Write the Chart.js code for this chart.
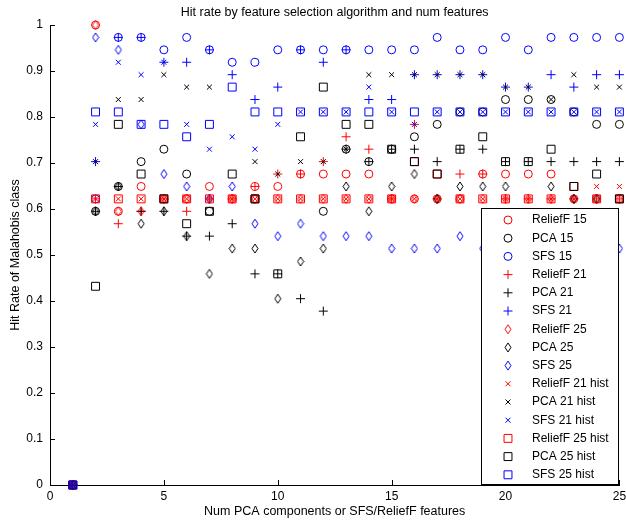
<!DOCTYPE html>
<html>
<head>
<meta charset="utf-8">
<script src="https://cdn.jsdelivr.net/npm/chart.js@4.4.0/dist/chart.umd.min.js"></script>
<style>
  html, body { margin: 0; padding: 0; background: #fff; }
</style>
</head>
<body>
<canvas id="hitRate" width="626" height="524"></canvas>
<script>
// x = number of PCA components / selected features
const numFeatures = [1, 2, 3, 4, 5, 6, 7, 8, 9, 10, 11, 12, 13, 14, 15, 16, 17, 18, 19, 20, 21, 22, 23, 24, 25];

// hit rates (null = not visible)
const relief15 = [0, 1.0, 0.595, 0.649, 0.622, 0.622, 0.649, 0.622, 0.649, 0.649, 0.676, 0.676, 0.676, 0.676, 0.622, 0.622, 0.622, 0.622, 0.676, 0.676, 0.676, 0.676, 0.622, 0.622, 0.622];
const pca15 = [0, 0.595, 0.649, 0.703, 0.730, 0.676, 0.595, null, 0.622, null, null, 0.595, 0.730, 0.703, 0.730, 0.757, 0.784, 0.811, 0.811, 0.838, 0.838, 0.838, 0.811, 0.784, 0.784];
const sfs15 = [0, 0.622, 0.973, 0.973, 0.946, 0.973, 0.946, 0.919, 0.919, 0.946, 0.946, 0.946, 0.946, 0.946, 0.946, 0.946, 0.973, 0.946, 0.946, 0.973, 0.946, 0.973, 0.973, 0.973, 0.973];
const relief21 = [0, 0.622, 0.568, 0.595, 0.622, 0.595, 0.622, 0.622, 0.649, 0.676, 0.676, 0.703, 0.757, 0.730, 0.622, 0.784, 0.622, 0.676, 0.676, 0.622, 0.622, 0.622, 0.622, 0.622, 0.622];
const pca21 = [0, 0.595, 0.649, 0.595, 0.595, 0.541, 0.541, 0.568, 0.459, 0.459, 0.405, 0.378, 0.730, 0.703, 0.730, 0.730, 0.703, 0.730, 0.730, 0.703, 0.703, 0.703, 0.703, 0.703, 0.703];
const sfs21 = [0, 0.703, 0.973, 0.973, 0.919, 0.919, 0.946, 0.892, 0.838, 0.865, 0.946, 0.919, 0.946, 0.838, 0.838, 0.892, 0.892, 0.892, 0.892, 0.865, 0.865, 0.892, 0.865, 0.892, 0.892];
const relief25 = [0, 1.0, 0.595, 0.595, 0.622, 0.622, 0.622, 0.622, 0.622, 0.622, 0.622, 0.622, 0.622, 0.622, 0.622, 0.622, 0.622, 0.622, 0.622, 0.622, 0.622, 0.622, 0.622, 0.622, 0.622];
const pca25 = [0, 0.595, 0.649, 0.568, 0.595, 0.541, 0.459, 0.514, 0.514, 0.405, 0.486, 0.514, 0.649, 0.595, 0.649, 0.676, 0.622, 0.649, 0.649, 0.649, null, 0.649, 0.622, 0.622, null];
const sfs25 = [0, 0.973, 0.946, 0.784, 0.676, 0.649, 0.622, 0.649, 0.568, 0.541, 0.568, 0.541, 0.541, 0.541, 0.514, 0.514, 0.514, 0.541, 0.514, null, null, null, null, null, 0.514];
const relief21Hist = [0, 0.622, 0.622, 0.622, 0.622, 0.622, 0.622, 0.622, 0.622, 0.622, 0.622, 0.622, 0.622, 0.622, 0.622, 0.622, 0.622, 0.622, 0.622, 0.622, 0.622, 0.622, 0.622, 0.649, 0.649];
const pca21Hist = [0, 0.703, 0.838, 0.838, 0.892, 0.865, 0.865, null, 0.703, 0.676, 0.703, 0.703, 0.730, 0.892, 0.892, 0.892, 0.892, 0.892, 0.892, 0.865, 0.865, 0.838, 0.892, 0.865, 0.865];
const sfs21Hist = [0, 0.784, 0.919, 0.892, 0.919, 0.784, 0.730, 0.757, 0.730, 0.784, 0.811, 0.811, 0.811, 0.865, 0.811, 0.784, 0.811, 0.811, 0.811, 0.811, 0.811, 0.811, 0.811, 0.811, 0.811];
const relief25Hist = [0, 0.622, 0.622, 0.622, 0.622, 0.622, 0.622, 0.622, 0.622, 0.622, 0.622, 0.622, 0.622, 0.622, 0.622, 0.703, 0.676, 0.622, 0.622, 0.622, 0.622, 0.622, 0.649, 0.622, 0.622];
const pca25Hist = [0, 0.432, 0.784, 0.676, 0.622, 0.568, 0.595, 0.676, 0.622, 0.459, 0.757, 0.865, 0.784, 0.784, 0.730, 0.703, 0.676, 0.730, 0.757, 0.703, 0.703, 0.730, 0.649, 0.676, 0.622];
const sfs25Hist = [0, 0.811, 0.811, 0.784, 0.784, 0.757, 0.784, 0.865, 0.811, 0.811, 0.811, 0.811, 0.811, 0.811, 0.811, 0.811, 0.811, 0.811, 0.811, 0.811, 0.811, 0.811, 0.811, 0.811, 0.811];

const seriesNames = ["ReliefF 15", "PCA 15", "SFS 15", "ReliefF 21", "PCA 21", "SFS 21", "ReliefF 25", "PCA 25", "SFS 25",
  "ReliefF 21 hist", "PCA 21 hist", "SFS 21 hist", "ReliefF 25 hist", "PCA 25 hist", "SFS 25 hist"];
const seriesValues = [relief15, pca15, sfs15, relief21, pca21, sfs21, relief25, pca25, sfs25,
  relief21Hist, pca21Hist, sfs21Hist, relief25Hist, pca25Hist, sfs25Hist];

const RED = "#ff0000", BLACK = "#000000", BLUE = "#0000ff";
const colors = [RED, BLACK, BLUE];

// matlab style diamond is taller than wide, so draw it on a small canvas
function makeDiamond(color) {
  const c = document.createElement("canvas");
  c.width = 8;
  c.height = 11;
  const g = c.getContext("2d");
  g.strokeStyle = color;
  g.lineWidth = 1;
  g.beginPath();
  g.moveTo(4, 1);
  g.lineTo(7, 5.5);
  g.lineTo(4, 10);
  g.lineTo(1, 5.5);
  g.closePath();
  g.stroke();
  return c;
}

function markerFor(i) {
  const color = colors[i % 3];
  const group = Math.floor(i / 3);
  if (group === 0) return { pointStyle: "circle", radius: 4 };
  if (group === 1) return { pointStyle: "cross", radius: 4.5 };
  if (group === 2) return { pointStyle: makeDiamond(color), radius: 5 };
  if (group === 3) return { pointStyle: "crossRot", radius: 3.5 };
  return { pointStyle: "rect", radius: 5.6 };
}

const markers = seriesNames.map((_, i) => markerFor(i));

const datasets = seriesNames.map((name, i) => ({
  label: name,
  data: numFeatures
    .map((x, j) => ({ x: x, y: seriesValues[i][j] }))
    .filter((p) => p.y !== null),
  showLine: false,
  pointStyle: markers[i].pointStyle,
  pointRadius: markers[i].radius,
  pointHoverRadius: markers[i].radius,
  pointBorderWidth: 1,
  pointBorderColor: colors[i % 3],
  pointBackgroundColor: "rgba(0,0,0,0)",
  clip: false,
  order: -i,
}));

// matlab ticks point into the plot
const insideTicks = {
  id: "insideTicks",
  beforeDatasetsDraw(chart) {
    const ctx = chart.ctx;
    const xs = chart.scales.x, ys = chart.scales.y;
    ctx.save();
    ctx.strokeStyle = "#000";
    ctx.lineWidth = 1;
    ctx.beginPath();
    xs.ticks.forEach((t) => {
      const px = Math.round(xs.getPixelForValue(t.value)) + 0.5;
      ctx.moveTo(px, ys.bottom);
      ctx.lineTo(px, ys.bottom - 5);
    });
    ys.ticks.forEach((t) => {
      const py = Math.round(ys.getPixelForValue(t.value)) + 0.5;
      ctx.moveTo(xs.left, py);
      ctx.lineTo(xs.left + 5, py);
    });
    ctx.stroke();
    ctx.restore();
  },
};

// legend box sits inside the axes, on top of the markers
const boxLegend = {
  id: "boxLegend",
  afterDraw(chart) {
    const ctx = chart.ctx;
    const left = 481.5, top = 208.5, right = 618.5, bottom = 484.5;
    ctx.save();
    ctx.fillStyle = "#fff";
    ctx.fillRect(left, top, right - left, bottom - top);
    ctx.strokeStyle = "#000";
    ctx.lineWidth = 1;
    ctx.strokeRect(left, top, right - left, bottom - top);
    ctx.font = "12px 'Liberation Sans', Arial, sans-serif";
    ctx.textBaseline = "middle";
    ctx.textAlign = "left";
    seriesNames.forEach((name, i) => {
      const y = 220 + i * 18.2;
      ctx.strokeStyle = colors[i % 3];
      ctx.fillStyle = "rgba(0,0,0,0)";
      ctx.lineWidth = 1;
      Chart.helpers.drawPoint(ctx, {
        pointStyle: markers[i].pointStyle,
        radius: markers[i].radius,
        borderWidth: 1,
        rotation: 0,
      }, 508, y);
      ctx.fillStyle = "#000";
      ctx.fillText(name, 532, y);
    });
    ctx.restore();
  },
};

Chart.defaults.font.family = "'Liberation Sans', Arial, sans-serif";
Chart.defaults.font.size = 12;
Chart.defaults.color = "#000";

new Chart(document.getElementById("hitRate"), {
  type: "scatter",
  data: { datasets: datasets },
  options: {
    responsive: false,
    animation: false,
    events: [],
    layout: { padding: { top: 0, right: 6, bottom: 0, left: 0 } },
    plugins: {
      legend: { display: false },
      tooltip: { enabled: false },
      title: {
        display: true,
        fullSize: false,
        text: "Hit rate by feature selection algorithm and num features",
        font: { size: 12.5, weight: "normal" },
        color: "#000",
        padding: { top: 5.5, bottom: 4.5 },
      },
    },
    scales: {
      x: {
        type: "linear",
        min: 0,
        max: 25,
        ticks: { stepSize: 5, padding: 4, maxRotation: 0, color: "#000" },
        grid: { display: false, drawTicks: false },
        border: { display: true, color: "#000", width: 1 },
        title: {
          display: true,
          text: "Num PCA components or SFS/ReliefF features",
          font: { size: 12.5 },
          padding: { top: 0, bottom: 5 },
          color: "#000",
        },
        afterFit(scale) {
          scale.height = 39;
          scale.paddingLeft = 0;
          scale.paddingRight = 0;
        },
      },
      y: {
        min: 0,
        max: 1,
        ticks: {
          stepSize: 0.1,
          padding: 7,
          color: "#000",
          callback: (v) => String(+v.toFixed(1)),
        },
        grid: { display: false, drawTicks: false },
        border: { display: true, color: "#000", width: 1 },
        title: {
          display: true,
          text: "Hit Rate of Malahobis class",
          font: { size: 12.5 },
          padding: { top: 8, bottom: 0 },
          color: "#000",
        },
        afterFit(scale) {
          scale.width = 50;
          scale.paddingTop = 0;
          scale.paddingBottom = 0;
        },
      },
    },
  },
  plugins: [insideTicks, boxLegend],
});
</script>
</body>
</html>
